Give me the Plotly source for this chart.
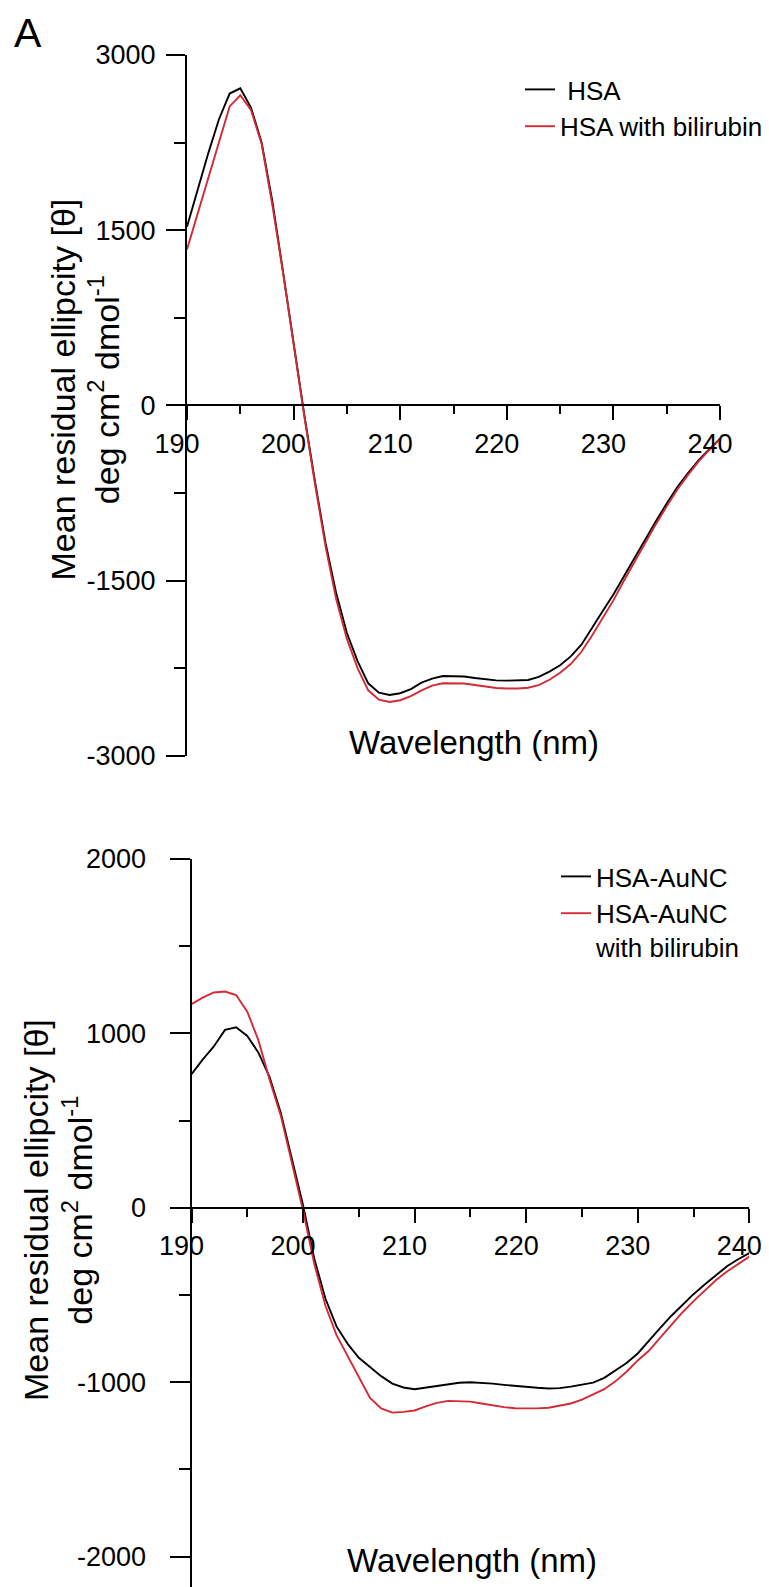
import plotly.graph_objects as go

# ---------------- data ----------------
wavelength = list(range(190, 241))

hsa = [1530, 1850, 2160, 2450, 2670, 2715, 2550, 2250, 1750, 1150,
       520, -80, -650, -1180, -1610, -1950, -2190, -2380, -2460, -2480,
       -2465, -2430, -2375, -2340, -2318, -2318, -2322, -2335, -2348, -2355,
       -2357, -2357, -2352, -2325, -2280, -2225, -2150, -2050, -1900, -1760,
       -1620, -1460, -1300, -1140, -990, -840, -700, -580, -470, -375, -285]

hsa_bili = [1335, 1640, 1950, 2260, 2560, 2655, 2530, 2240, 1720, 1140,
            510, -90, -670, -1210, -1660, -2000, -2250, -2440, -2520, -2540,
            -2525, -2490, -2440, -2400, -2380, -2378, -2382, -2395, -2410, -2420,
            -2425, -2425, -2418, -2395, -2350, -2290, -2215, -2110, -1970, -1820,
            -1670, -1500, -1335, -1170, -1015, -865, -720, -595, -480, -382, -290]

aunc = [767, 850, 925, 1020, 1035, 985, 890, 750, 545, 280,
        15, -290, -520, -680, -780, -860, -910, -965, -1008, -1030,
        -1040, -1030, -1022, -1010, -1003, -1000, -1002, -1008, -1015, -1022,
        -1027, -1032, -1036, -1034, -1025, -1012, -1002, -975, -935, -890,
        -835, -760, -690, -620, -555, -495, -440, -385, -335, -295, -260]

aunc_bili = [1168, 1205, 1235, 1240, 1220, 1125, 960, 735, 530, 260,
             -15, -320, -560, -730, -850, -975, -1090, -1150, -1174, -1170,
             -1162, -1138, -1118, -1107, -1108, -1111, -1122, -1133, -1143, -1149,
             -1151, -1150, -1146, -1136, -1122, -1100, -1072, -1040, -995, -940,
             -875, -820, -745, -670, -600, -535, -475, -415, -365, -320, -280]

top_names = [" HSA", "HSA with bilirubin"]
bottom_names = ["HSA-AuNC", "HSA-AuNC<br>with bilirubin"]
x_ticks = [190, 200, 210, 220, 230, 240]
x_tick_text = ["190", "200", "210", "220", "230", "240"]
top_y_ticks = [-3000, -1500, 0, 1500, 3000]
top_y_text = ["-3000", "-1500", "0", "1500", "3000"]
bot_y_ticks = [-2000, -1000, 0, 1000, 2000]
bot_y_text = ["-2000", "-1000", "0", "1000", "2000"]
top_range = [-3000, 3000]
bottom_range = [-2174, 2000]

# ---------------- layout helpers ----------------
W, H = 769, 1587
FONT = "Liberation Sans, Arial, sans-serif"
BLACK = "#000000"
RED = "#d42a35"


def fx(p):
    return p / W


def fy(p):
    return 1 - p / H


top_xdom = [fx(187), fx(720)]
top_ydom = [fy(755.7), fy(55)]
bot_xdom = [fx(191.5), fx(749.3)]
bot_ydom = [0, fy(859)]


def zero_pos(dom, rng):
    return dom[0] + (0 - rng[0]) / (rng[1] - rng[0]) * (dom[1] - dom[0])


fig = go.Figure()

fig.add_trace(go.Scatter(x=wavelength, y=hsa, mode="lines", name=top_names[0],
                         line=dict(color=BLACK, width=1.9), xaxis="x", yaxis="y",
                         legend="legend"))
fig.add_trace(go.Scatter(x=wavelength, y=hsa_bili, mode="lines", name=top_names[1],
                         line=dict(color=RED, width=1.9), xaxis="x", yaxis="y",
                         legend="legend"))
fig.add_trace(go.Scatter(x=wavelength, y=aunc, mode="lines", name=bottom_names[0],
                         line=dict(color=BLACK, width=1.9), xaxis="x2", yaxis="y2",
                         legend="legend2"))
fig.add_trace(go.Scatter(x=wavelength, y=aunc_bili, mode="lines", name=bottom_names[1],
                         line=dict(color=RED, width=1.9), xaxis="x2", yaxis="y2",
                         legend="legend2"))

tickfont = dict(family=FONT, size=27, color=BLACK)

xcommon = dict(range=[190, 240], tickmode="array", tickvals=x_ticks, ticktext=x_tick_text,
               showline=True, linecolor=BLACK,
               linewidth=2, ticks="outside", ticklen=14, tickwidth=2, tickcolor=BLACK,
               minor=dict(dtick=5, tick0=190, ticks="outside", ticklen=8, tickwidth=2,
                          tickcolor=BLACK, showgrid=False),
               showgrid=False, zeroline=False, tickfont=tickfont, automargin=False,
               ticklabelshift=-10, ticklabelstandoff=0, anchor="free")

ycommon = dict(showline=True, linecolor=BLACK, linewidth=2, ticks="outside",
               tickwidth=2, tickcolor=BLACK, showgrid=False, zeroline=False,
               tickfont=tickfont, automargin=False, tickmode="array")

fig.update_layout(
    template="none",
    width=W, height=H,
    margin=dict(l=0, r=0, t=0, b=0, pad=0),
    paper_bgcolor="white", plot_bgcolor="white",
    xaxis=dict(domain=top_xdom, position=zero_pos(top_ydom, top_range), **xcommon),
    yaxis=dict(domain=top_ydom, range=top_range, anchor="x",
               tickvals=top_y_ticks, ticktext=top_y_text, ticklen=19,
               minor=dict(dtick=750, tick0=0, ticks="outside", ticklen=11, tickwidth=2,
                          tickcolor=BLACK, showgrid=False),
               ticklabelstandoff=5, **ycommon),
    xaxis2=dict(domain=bot_xdom, position=zero_pos(bot_ydom, bottom_range), **xcommon),
    yaxis2=dict(domain=bot_ydom, range=bottom_range, anchor="x2",
                tickvals=bot_y_ticks, ticktext=bot_y_text, ticklen=20,
                minor=dict(dtick=500, tick0=0, ticks="outside", ticklen=11, tickwidth=2,
                           tickcolor=BLACK, showgrid=False),
                ticklabelstandoff=18, **ycommon),
    legend=dict(x=fx(520), y=fy(66), xanchor="left", yanchor="top",
                bgcolor="rgba(0,0,0,0)", borderwidth=0,
                font=dict(family=FONT, size=26, color=BLACK)),
    legend2=dict(x=fx(556), y=fy(853), xanchor="left", yanchor="top", valign="top",
                 bgcolor="rgba(0,0,0,0)", borderwidth=0,
                 font=dict(family=FONT, size=26, color=BLACK)),
    showlegend=True,
)

ytitle = "Mean residual ellipcity [θ]<br>deg cm<sup>2</sup> dmol<sup>-1</sup>"
ann_font = dict(family=FONT, size=34, color=BLACK)
fig.add_annotation(text="A", x=fx(27.5), y=fy(32.5), xref="paper", yref="paper",
                   showarrow=False, xanchor="center", yanchor="middle",
                   font=dict(family=FONT, size=41, color=BLACK))
fig.add_annotation(text=ytitle, x=fx(84.5), y=fy(390), xref="paper", yref="paper",
                   showarrow=False, textangle=-90, xanchor="center", yanchor="middle",
                   font=ann_font)
fig.add_annotation(text=ytitle, x=fx(58), y=fy(1210), xref="paper", yref="paper",
                   showarrow=False, textangle=-90, xanchor="center", yanchor="middle",
                   font=ann_font)
fig.add_annotation(text="Wavelength (nm)", x=fx(474), y=fy(743), xref="paper", yref="paper",
                   showarrow=False, xanchor="center", yanchor="middle",
                   font=dict(family=FONT, size=33, color=BLACK))
fig.add_annotation(text="Wavelength (nm)", x=fx(472), y=fy(1560), xref="paper", yref="paper",
                   showarrow=False, xanchor="center", yanchor="middle",
                   font=dict(family=FONT, size=33, color=BLACK))

fig.write_html("out.html")
